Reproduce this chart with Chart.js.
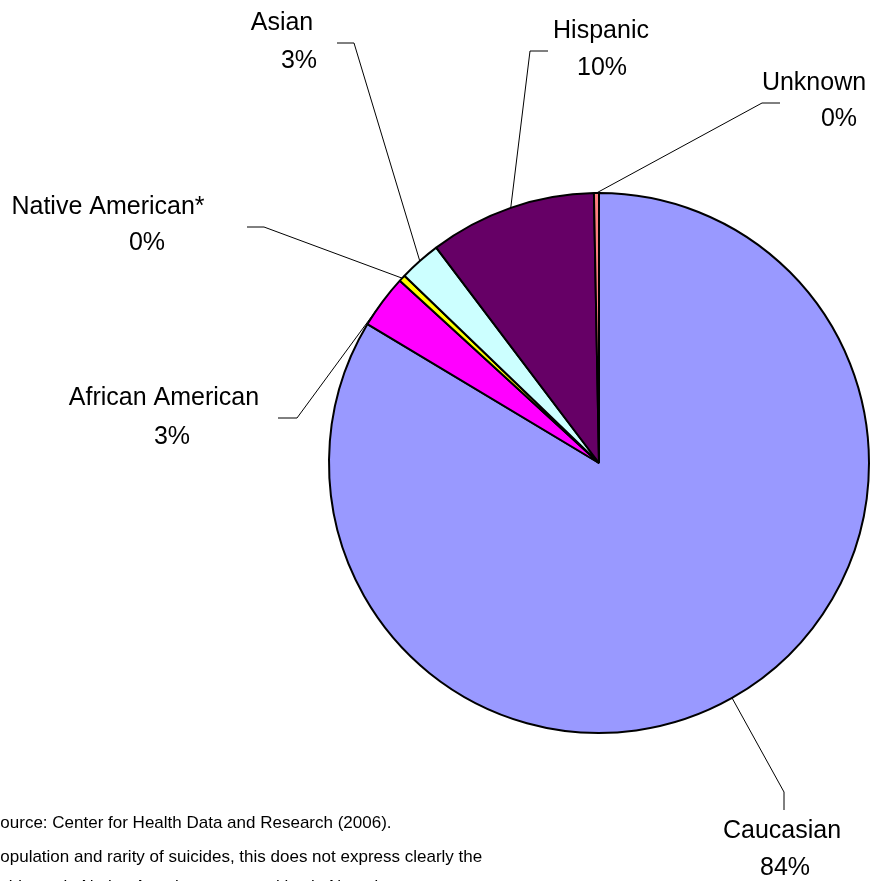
<!DOCTYPE html>
<html>
<head>
<meta charset="utf-8">
<script src="https://cdn.jsdelivr.net/npm/chart.js@4"></script>
<style>
    html, body { margin: 0; padding: 0; background: #fff; overflow: hidden; }
</style>
</head>
<body>
<canvas id="raceChart" width="892" height="881"></canvas>
<script>

// Suicides by race / ethnicity
const groups = ['Caucasian', 'African American', 'Native American*', 'Asian', 'Hispanic', 'Unknown'];
const shares = [83.6, 3.2, 0.4, 2.5, 10.0, 0.3];
const sliceColors = ['#9999FF', '#FF00FF', '#FFFF00', '#CCFFFF', '#660066', '#FF8080'];

const footNotes = [
    'Source: Center for Health Data and Research (2006).',
    '*Due to small population and rarity of suicides, this does not express clearly the',
    'incidence in Native American communities in Nevada.'
];

// where the callouts sit (elbow of leader line, end of leader line, label lines)
const labelSpots = [
    { elbow: [784, 792], end: [784, 810], name: [782, 831], pct: [785, 868] },
    { elbow: [297, 418], end: [278, 418], name: [164, 398], pct: [172, 437] },
    { elbow: [264, 227], end: [247, 227], name: [108, 207], pct: [147, 243] },
    { elbow: [354, 43], end: [337, 43], name: [282, 23], pct: [299, 61] },
    { elbow: [530, 51], end: [548, 51], name: [601, 31], pct: [602, 68] },
    { elbow: [762, 103], end: [780, 103], name: [814, 83], pct: [839, 119] }
];
const notePos = [[-11, 823], [-115, 857], [-13, 887]];

const calloutPlugin = {
    id: 'callouts',
    afterDatasetsDraw(chart) {
        const ctx = chart.ctx;
        const arcs = chart.getDatasetMeta(0).data;
        const total = shares.reduce((a, b) => a + b, 0);
        ctx.save();
        arcs.forEach((arc, i) => {
            const spot = labelSpots[i];
            const p = arc.getProps(['x', 'y', 'startAngle', 'endAngle', 'outerRadius']);
            const mid = (p.startAngle + p.endAngle) / 2;
            const sx = p.x + Math.cos(mid) * p.outerRadius;
            const sy = p.y + Math.sin(mid) * p.outerRadius;
            ctx.beginPath();
            ctx.moveTo(sx, sy);
            ctx.lineTo(spot.elbow[0], spot.elbow[1]);
            ctx.lineTo(spot.end[0], spot.end[1]);
            ctx.strokeStyle = '#000';
            ctx.lineWidth = 1;
            ctx.stroke();

            ctx.fillStyle = '#000';
            ctx.font = '25px "Liberation Sans", Arial, sans-serif';
            ctx.textAlign = 'center';
            ctx.textBaseline = 'middle';
            ctx.fillText(groups[i], spot.name[0], spot.name[1]);
            ctx.fillText(Math.round(shares[i] / total * 100) + '%', spot.pct[0], spot.pct[1]);
        });

        ctx.font = '17px "Liberation Sans", Arial, sans-serif';
        ctx.textAlign = 'left';
        footNotes.forEach((line, i) => {
            ctx.fillText(line, notePos[i][0], notePos[i][1]);
        });
        ctx.restore();
    }
};

buildRaceChart();

function buildRaceChart() {
    const raceCtx = document.getElementById('raceChart');
    // @ts-ignore
    new Chart(raceCtx, {
        type: 'pie',
        data: {
            labels: groups,
            datasets: [
                {
                    data: shares,
                    backgroundColor: sliceColors,
                    borderColor: '#000',
                    borderWidth: 2,
                    radius: 270,
                    hoverOffset: 0
                }
            ]
        },
        options: {
            responsive: false,
            animation: false,
            layout: {
                padding: { left: 329, right: 23, top: 193, bottom: 148 }
            },
            plugins: {
                legend: { display: false },
                tooltip: { enabled: false }
            }
        },
        plugins: [calloutPlugin]
    });
}
</script>
</body>
</html>
